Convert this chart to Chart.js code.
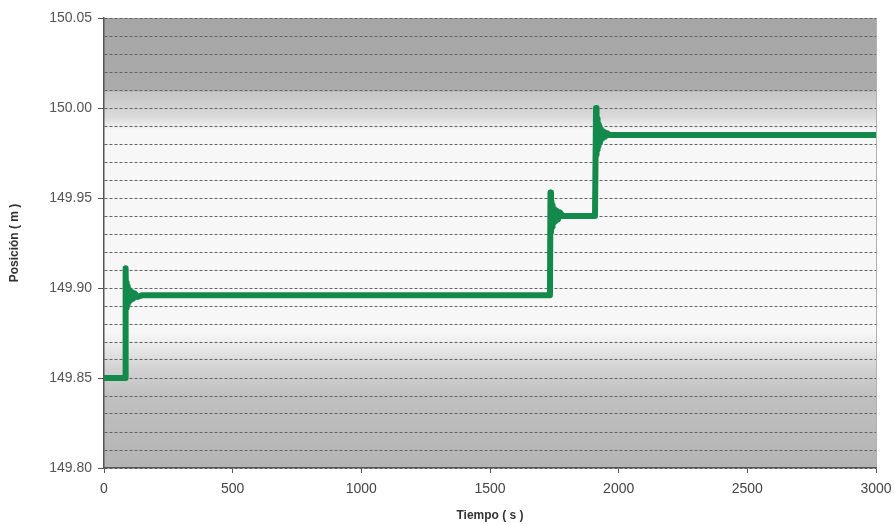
<!DOCTYPE html>
<html>
<head>
<meta charset="utf-8">
<script src="https://cdn.jsdelivr.net/npm/chart.js@4.4.1/dist/chart.umd.min.js"></script>
<style>
  html, body { margin: 0; padding: 0; background: #ffffff; }
  #wrap { width: 894px; height: 524px; position: relative; }
</style>
</head>
<body>
<div id="wrap"><canvas id="posChart" width="894" height="524"></canvas></div>
<script>
// Tiempo (s) y posición (m)
const tiempo = [0, 40, 82, 84, 86, 88, 90, 92, 95, 98, 102, 107, 113, 120, 130, 150, 300, 600, 900, 1200, 1500, 1733,
  1735, 1737, 1739, 1741, 1743, 1746, 1749, 1753, 1758, 1764, 1772, 1782, 1850, 1908,
  1912, 1914, 1916, 1918, 1920, 1922, 1925, 1928, 1932, 1936, 1941, 1947, 1955, 1965, 1990, 2300, 2700, 3000];
const posicion = [149.850, 149.850, 149.850, 149.911, 149.889, 149.903, 149.891, 149.901, 149.892, 149.899, 149.893, 149.898, 149.894, 149.897, 149.895, 149.896, 149.896, 149.896, 149.896, 149.896, 149.896, 149.896,
  149.953, 149.931, 149.948, 149.934, 149.946, 149.936, 149.944, 149.937, 149.943, 149.938, 149.942, 149.940, 149.940, 149.940,
  150.000, 149.974, 149.994, 149.977, 149.991, 149.979, 149.990, 149.981, 149.988, 149.983, 149.987, 149.984, 149.986, 149.985, 149.985, 149.985, 149.985, 149.985];

const yMin = 149.80, yMax = 150.05, yStep = 0.01;
const xMin = 0, xMax = 3000, xStep = 500;

const puntos = tiempo.map((t, i) => ({ x: t, y: posicion[i] }));

function esMayor(v) {
  const k = v * 20;
  return Math.abs(Math.round(k) - k) < 1e-6;
}

// Fondo gris/blanco del área de trazado
const fondo = {
  id: 'fondo',
  beforeDraw(chart) {
    const { ctx, chartArea: a } = chart;
    const g = ctx.createLinearGradient(0, a.top, 0, a.bottom);
    g.addColorStop(0.00, '#a6a6a6');
    g.addColorStop(0.16, '#ababab');
    g.addColorStop(0.165, '#c6c6c6');
    g.addColorStop(0.22, '#dadada');
    g.addColorStop(0.25, '#f7f7f7');
    g.addColorStop(0.70, '#f7f7f7');
    g.addColorStop(0.78, '#d2d2d2');
    g.addColorStop(0.84, '#c0c0c0');
    g.addColorStop(1.00, '#b4b4b4');
    ctx.save();
    ctx.fillStyle = g;
    ctx.fillRect(a.left, a.top, a.right - a.left, a.bottom - a.top);
    ctx.strokeStyle = '#b0b0b0';
    ctx.lineWidth = 1;
    ctx.beginPath();
    ctx.moveTo(a.right + 0.5, a.top);
    ctx.lineTo(a.right + 0.5, a.bottom);
    ctx.stroke();
    ctx.restore();
  }
};

const ctx = document.getElementById('posChart').getContext('2d');
const posChart = new Chart(ctx, {
  type: 'line',
  data: {
    datasets: [{
      data: puntos,
      borderColor: '#13894b',
      borderWidth: 6,
      borderJoinStyle: 'round',
      pointRadius: 0,
      tension: 0,
      fill: false
    }]
  },
  options: {
    responsive: false,
    animation: false,
    layout: { padding: { top: 18, right: 0, left: 0, bottom: 0 } },
    plugins: { legend: { display: false }, tooltip: { enabled: false } },
    scales: {
      x: {
        type: 'linear',
        min: xMin,
        max: xMax,
        afterFit(scale) {
          scale.height = 56;
          scale.paddingLeft = 0;
          scale.paddingRight = 18;
        },
        ticks: {
          stepSize: xStep,
          color: '#444',
          padding: 8,
          maxRotation: 0,
          font: { family: 'Liberation Sans', size: 14 },
          callback: v => String(v)
        },
        grid: { drawOnChartArea: false, tickLength: 5, tickColor: '#555' },
        border: { color: '#555', width: 1.5 },
        title: {
          display: true,
          text: 'Tiempo ( s )',
          color: '#333',
          padding: { top: 0, bottom: 1 },
          font: { family: 'Liberation Sans', size: 12, weight: 'bold' }
        }
      },
      y: {
        min: yMin,
        max: yMax,
        afterFit(scale) { scale.width = 104; },
        ticks: {
          stepSize: yStep,
          autoSkip: false,
          color: '#555',
          padding: 6,
          font: { family: 'Liberation Sans', size: 14 },
          callback: v => esMayor(v) ? v.toFixed(2) : ''
        },
        grid: {
          color: '#626262',
          lineWidth: 1,
          tickLength: 6,
          tickColor: c => (c.tick && esMayor(c.tick.value)) ? '#555' : 'rgba(0,0,0,0)'
        },
        border: { color: '#555', width: 1.5, dash: [3, 2] },
        title: {
          display: true,
          text: 'Posición ( m )',
          color: '#333',
          padding: { top: 7, bottom: 0 },
          font: { family: 'Liberation Sans', size: 12, weight: 'bold' }
        }
      }
    }
  },
  plugins: [fondo]
});
</script>
</body>
</html>
